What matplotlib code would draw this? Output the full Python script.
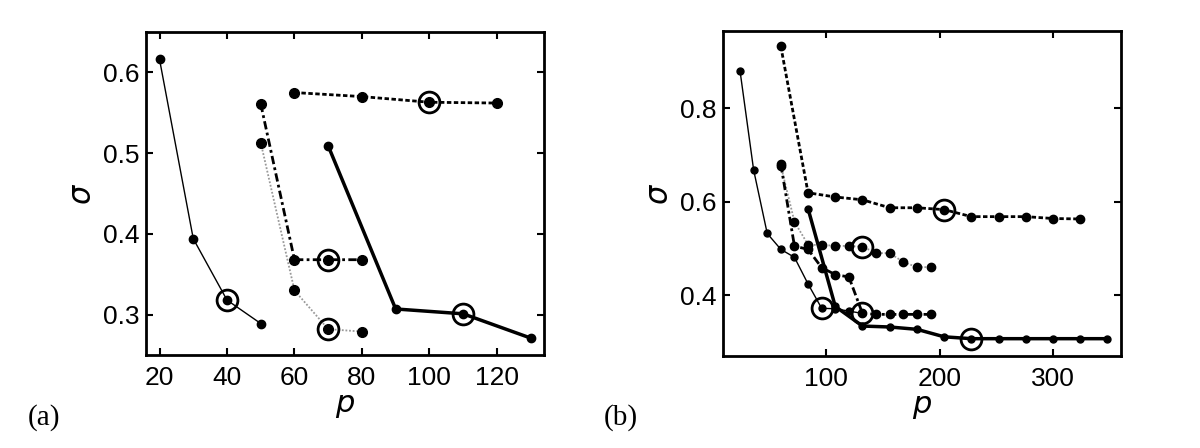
import matplotlib
matplotlib.use("Agg")
import matplotlib.pyplot as plt

plt.rcParams['font.family'] = ['Liberation Sans', 'DejaVu Sans']

# panel (a) data
a_thin_p = [20, 30, 40, 50]
a_thin_s = [0.616, 0.394, 0.318, 0.289]
a_dash_p = [50, 60, 70, 80]
a_dash_s = [0.561, 0.368, 0.368, 0.368]
a_gray_p = [50, 60, 70, 80]
a_gray_s = [0.513, 0.330, 0.282, 0.279]
a_top_p = [60, 80, 100, 120]
a_top_s = [0.575, 0.570, 0.563, 0.562]
a_thick_p = [70, 90, 110, 130]
a_thick_s = [0.509, 0.307, 0.301, 0.271]
# circled points (a)
a_circ_p = [40, 70, 70, 100, 110]
a_circ_s = [0.318, 0.368, 0.282, 0.563, 0.301]

# panel (b) data
b_thin_p = [24, 36, 48, 60, 72, 84, 96, 108, 120, 132]
b_thin_s = [0.880, 0.668, 0.532, 0.498, 0.481, 0.424, 0.372, 0.371, 0.366, 0.361]
b_dash_p = [60, 72, 84, 96, 108, 120, 132, 144, 156, 168, 180, 192]
b_dash_s = [0.680, 0.505, 0.498, 0.459, 0.444, 0.439, 0.361, 0.359, 0.359, 0.359, 0.359, 0.359]
b_gray_p = [60, 72, 84, 96, 108, 120, 132, 144, 156, 168, 180, 192]
b_gray_s = [0.677, 0.557, 0.508, 0.507, 0.506, 0.505, 0.504, 0.490, 0.490, 0.471, 0.460, 0.460]
b_top_p = [60, 84, 108, 132, 156, 180, 204, 228, 252, 276, 300, 324]
b_top_s = [0.932, 0.619, 0.610, 0.604, 0.587, 0.587, 0.583, 0.568, 0.568, 0.568, 0.564, 0.563]
b_thick_p = [84, 108, 132, 156, 180, 204, 228, 252, 276, 300, 324, 348]
b_thick_s = [0.585, 0.376, 0.334, 0.332, 0.327, 0.311, 0.307, 0.307, 0.307, 0.307, 0.307, 0.307]
b_circ_p = [96, 132, 132, 204, 228]
b_circ_s = [0.372, 0.361, 0.504, 0.583, 0.307]

fig = plt.figure(figsize=(12, 4.48), dpi=100)
ax1 = fig.add_axes([0.1217, 0.2076, 0.3317, 0.721])
ax2 = fig.add_axes([0.6025, 0.2054, 0.3317, 0.7254])


def draw(ax, thin, dash, gray, top, thick, circ, big, small, ring):
    ax.plot(*gray, color='0.6', lw=1.3, ls=(0, (1, 1)), marker='o', ms=big, mfc='k', mec='k', zorder=3)
    ax.plot(*dash, color='k', lw=2.0, ls=(0, (3, 1.2, 1, 1.2)), marker='o', ms=big, mfc='k', mec='k', zorder=4)
    ax.plot(*top, color='k', lw=2.0, ls=(0, (1.6, 0.9)), marker='o', ms=big, mfc='k', mec='k', zorder=4)
    ax.plot(*thin, color='k', lw=1.0, ls='-', marker='o', ms=small, mfc='k', mec='k', zorder=5)
    ax.plot(*thick, color='k', lw=2.5, ls='-', marker='o', ms=small, mfc='k', mec='k', zorder=5)
    ax.plot(*circ, ls='none', marker='o', ms=ring, mfc='none', mec='k', mew=2.0, zorder=6)


draw(ax1, (a_thin_p, a_thin_s), (a_dash_p, a_dash_s), (a_gray_p, a_gray_s),
     (a_top_p, a_top_s), (a_thick_p, a_thick_s), (a_circ_p, a_circ_s), 7.0, 6.0, 15)
draw(ax2, (b_thin_p, b_thin_s), (b_dash_p, b_dash_s), (b_gray_p, b_gray_s),
     (b_top_p, b_top_s), (b_thick_p, b_thick_s), (b_circ_p, b_circ_s), 6.0, 5.0, 15)

ax1.set_xlim(16, 134)
ax1.set_ylim(0.25, 0.65)
ax1.set_xticks([20, 40, 60, 80, 100, 120])
ax1.set_yticks([0.3, 0.4, 0.5, 0.6])
ax1.set_yticklabels(['0.3', '0.4', '0.5', '0.6'])

ax2.set_xlim(9, 360)
ax2.set_ylim(0.27, 0.965)
ax2.set_xticks([100, 200, 300])
ax2.set_yticks([0.4, 0.6, 0.8])
ax2.set_yticklabels(['0.4', '0.6', '0.8'])

for ax in (ax1, ax2):
    for s in ax.spines.values():
        s.set_linewidth(2.0)
    ax.tick_params(direction='in', length=5, width=1.5, labelsize=19,
                   top=True, right=True)
    ax.tick_params(axis='y', pad=5)
    ax.tick_params(axis='x', pad=8)
    ax.set_xlabel('$p$', fontsize=22, labelpad=0)
    ax.set_ylabel(r'$\sigma$', fontsize=22, labelpad=3)

fig.text(0.023, 0.052, '(a)', family='Liberation Serif', fontsize=21)
fig.text(0.503, 0.052, '(b)', family='Liberation Serif', fontsize=21)

fig.savefig('out.png', dpi=100)
